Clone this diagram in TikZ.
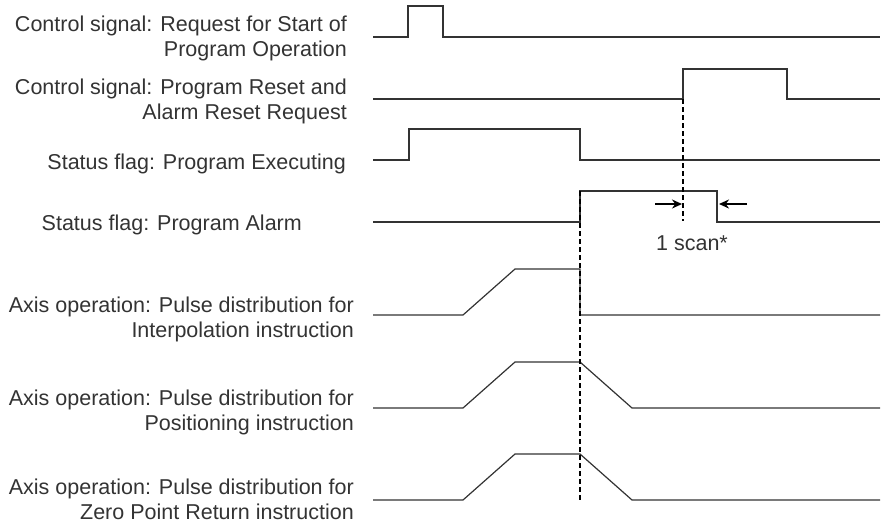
\documentclass[tikz,border=0pt]{standalone}
\usepackage{fontspec}
\setmainfont{Liberation Sans}
\usetikzlibrary{arrows.meta}
\begin{document}
\begin{tikzpicture}[x=1pt,y=-1pt,
  sig/.style={line width=1.2pt, draw=black!80, line join=miter},
  lab/.style={anchor=base east, font=\fontsize{21.5}{24.5}\selectfont, text=black!80, inner sep=0pt, align=right},
  guide/.style={line width=1.2pt, draw=black, dash pattern=on 5pt off 3pt},
  scanarrow/.style={line width=2pt, draw=black, -{Stealth[length=10pt,width=9pt]}},
  scantext/.style={font=\fontsize{21.5}{24.5}\selectfont, text=black!80, inner sep=0pt, anchor=base}]
\useasboundingbox (0,0) rectangle (882,523);

% labels (anchor = baseline of the last line)
\node[lab] (l1) at (347,56) {Control signal: Request for Start of\\Program Operation};
\node[lab] (l2) at (347,119) {Control signal: Program Reset and\\Alarm Reset Request};
\node[lab] (l3) at (346,169) {Status flag: Program Executing};
\node[lab] (l4) at (302,230) {Status flag: Program Alarm};
\node[lab] (l5) at (354,337) {Axis operation: Pulse distribution for\\Interpolation instruction};
\node[lab] (l6) at (354,430) {Axis operation: Pulse distribution for\\Positioning instruction};
\node[lab] (l7) at (354,519) {Axis operation: Pulse distribution for\\Zero Point Return instruction};

% coordinates
\coordinate (s1a) at (373,37);
\coordinate (s1e) at (880,37);
\coordinate (s2a) at (373,99);
\coordinate (s2e) at (880,99);
\coordinate (s3a) at (373,160);
\coordinate (s3e) at (880,160);
\coordinate (s4a) at (373,222);
\coordinate (s4e) at (880,222);
\coordinate (s5a) at (373,315);
\coordinate (s5e) at (880,315);
\coordinate (s6a) at (373,408);
\coordinate (s6e) at (880,408);
\coordinate (s7a) at (373,500);
\coordinate (s7e) at (880,500);

% signals
\draw[sig] (s1a) -- (408,37) -- (408,6) -- (443,6) -- (443,37) -- (s1e);
\draw[sig] (s2a) -- (683,99) -- (683,69) -- (787,69) -- (787,99) -- (s2e);
\draw[sig] (s3a) -- (409,160) -- (409,129) -- (580,129) -- (580,160) -- (s3e);
\draw[sig] (s4a) -- (580,222) -- (580,191) -- (717,191) -- (717,222) -- (s4e);
\draw[sig] (s5a) -- (463,315) -- (515,269) -- (580,269) -- (580,315) -- (s5e);
\draw[sig] (s6a) -- (463,408) -- (515,362) -- (580,362) -- (632,408) -- (s6e);
\draw[sig] (s7a) -- (463,500) -- (515,454) -- (580,454) -- (632,500) -- (s7e);

% guides
\coordinate (g1t) at (580,191);
\coordinate (g1b) at (580,500);
\coordinate (g2t) at (683,99);
\coordinate (g2b) at (683,221);
\draw[guide] (g1t) -- (g1b);
\draw[guide] (g2t) -- (g2b);

% 1 scan arrows
\coordinate (a1s) at (655,204);
\coordinate (a1e) at (682,204);
\coordinate (a2s) at (747,204);
\coordinate (a2e) at (719,204);
\draw[scanarrow] (a1s) -- (a1e);
\draw[scanarrow] (a2s) -- (a2e);
\node[scantext] (scan) at (692,250) {1 scan*};
\end{tikzpicture}
\end{document}
